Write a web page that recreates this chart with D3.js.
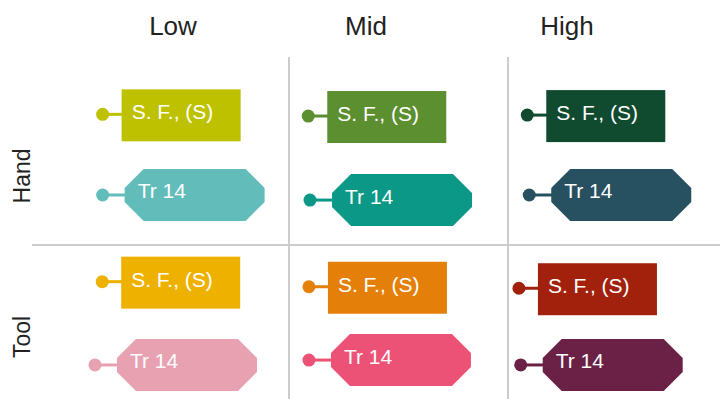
<!DOCTYPE html>
<html>
<head>
<meta charset="utf-8">
<script src="https://cdn.jsdelivr.net/npm/d3@7/dist/d3.min.js"></script>
<style>
  html, body { margin: 0; padding: 0; background: #ffffff; }
  svg { display: block; }
  text { font-family: "Liberation Sans", Arial, Helvetica, sans-serif; }
</style>
</head>
<body>
<svg id="chart" width="720" height="399"></svg>
<script>
// ---------------- data ----------------
const columns = ["Low", "Mid", "High"];
const rows = ["Hand", "Tool"];
const rectLabel = "S. F., (S)";
const hexLabel = "Tr 14";

// panel order: Hand-Low, Hand-Mid, Hand-High, Tool-Low, Tool-Mid, Tool-High
const panelRow = ["Hand", "Hand", "Hand", "Tool", "Tool", "Tool"];
const panelCol = ["Low", "Mid", "High", "Low", "Mid", "High"];

// anchor (dot) positions inside each panel, panel units 0..10
const rectX = [1.49, 0.88, 0.88, 1.47, 0.91, 0.50];
const rectY = [3.05, 3.14, 3.09, 1.95, 2.22, 2.30];
const hexX  = [1.49, 0.96, 0.97, 1.14, 0.91, 0.58];
const hexY  = [7.34, 7.61, 7.34, 6.38, 6.12, 6.38];

const rectColors = ["#bec100", "#5c8f30", "#114b2f", "#efb100", "#e4800a", "#a1210d"];
const hexColors  = ["#62bcba", "#0b9886", "#275060", "#e8a1b1", "#ec5275", "#6b2145"];

// ---------------- layout ----------------
const W = 720, H = 399;
const svg = d3.select("#chart");

const colBand = d3.scaleBand().domain(columns).range([70, 727]).padding(0);
const rowBand = d3.scaleBand().domain(rows).range([57, 433]).padding(0);
const inX = d3.scaleLinear().domain([0, 10]).range([0, colBand.bandwidth()]);
const inY = d3.scaleLinear().domain([0, 10]).range([0, rowBand.bandwidth()]);

const headerX = { Low: 173, Mid: 366, High: 567 };
const rowLabelY = { Hand: 176, Tool: 337 };

// grid separators
const grid = svg.append("g").attr("stroke", "#cccccc").attr("stroke-width", 2);
columns.slice(1).forEach(c => {
  grid.append("line")
    .attr("x1", colBand(c)).attr("x2", colBand(c))
    .attr("y1", rowBand("Hand")).attr("y2", H);
});
rows.slice(1).forEach(r => {
  grid.append("line")
    .attr("x1", 32).attr("x2", W)
    .attr("y1", rowBand(r)).attr("y2", rowBand(r));
});

// headers
svg.append("g").selectAll("text").data(columns).join("text")
  .attr("x", d => headerX[d]).attr("y", 35)
  .attr("text-anchor", "middle")
  .attr("font-size", 26)
  .attr("fill", "#222222")
  .text(d => d);

svg.append("g").selectAll("text").data(rows).join("text")
  .attr("transform", d => `translate(30,${rowLabelY[d]}) rotate(-90)`)
  .attr("text-anchor", "middle")
  .attr("font-size", 23)
  .attr("fill", "#222222")
  .text(d => d);

// tag geometry
const dotR = 6.5;
const rectGap = 19, rectW = 119, rectH = 52;
const hexGap = 22, hexW = 140, hexH = 52, cham = 19;

function tagGroup(kind, i) {
  const px = colBand(panelCol[i]) + inX(kind === "rect" ? rectX[i] : hexX[i]);
  const py = rowBand(panelRow[i]) + inY(kind === "rect" ? rectY[i] : hexY[i]);
  const color = kind === "rect" ? rectColors[i] : hexColors[i];
  const g = svg.append("g");
  const gap = kind === "rect" ? rectGap : hexGap;
  g.append("line")
    .attr("x1", px).attr("x2", px + gap + 1)
    .attr("y1", py).attr("y2", py)
    .attr("stroke", color).attr("stroke-width", 3);
  g.append("circle").attr("cx", px).attr("cy", py).attr("r", dotR).attr("fill", color);
  const x0 = px + gap;
  if (kind === "rect") {
    const y0 = py - rectH / 2 + 1;
    g.append("rect").attr("x", x0).attr("y", y0).attr("width", rectW).attr("height", rectH).attr("fill", color);
    g.append("text").attr("x", x0 + 10).attr("y", y0 + 30)
      .attr("font-size", 21).attr("fill", "#ffffff").text(rectLabel);
  } else {
    const y0 = py - hexH / 2;
    const pts = [
      [x0 + cham, y0], [x0 + hexW - cham, y0], [x0 + hexW, y0 + cham],
      [x0 + hexW, y0 + hexH - cham], [x0 + hexW - cham, y0 + hexH],
      [x0 + cham, y0 + hexH], [x0, y0 + hexH - cham], [x0, y0 + cham]
    ];
    g.append("polygon").attr("points", pts.map(p => p.join(",")).join(" ")).attr("fill", color);
    g.append("text").attr("x", x0 + 13).attr("y", y0 + 29.5)
      .attr("font-size", 21).attr("fill", "#ffffff").text(hexLabel);
  }
}

for (let i = 0; i < panelRow.length; i++) {
  tagGroup("rect", i);
  tagGroup("hex", i);
}
</script>
</body>
</html>
